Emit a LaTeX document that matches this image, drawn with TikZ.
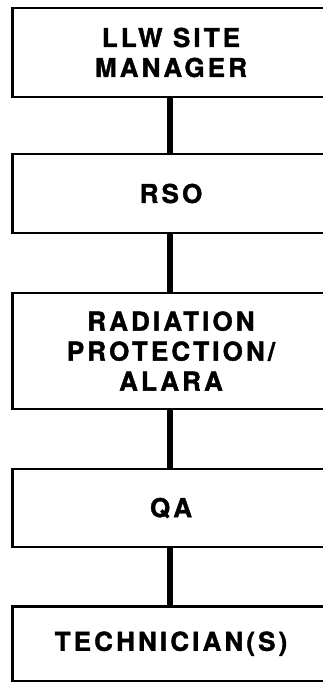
\documentclass[tikz,border=0pt]{standalone}
\usepackage{fontspec}
\setmainfont{TeX Gyre Heros}[LetterSpace=12, BoldFeatures={FakeBold=1.5}]
\begin{document}
\begin{tikzpicture}[x=1pt,y=-1pt,
  box/.style={draw, line width=2.8pt, minimum width=317pt, inner sep=0pt, outer sep=0pt,
    align=center, font=\bfseries\fontsize{26}{30}\selectfont},
  link/.style={line width=6.5pt}]
\useasboundingbox (0,0) rectangle (322,683);
\node[box, minimum height=89pt] (mgr) at (171,52.5) {LLW SITE\\MANAGER};
\node[box, minimum height=79pt] (rso) at (171,193.5) {RSO};
\node[box, minimum height=116pt] (rad) at (171,351) {RADIATION\\PROTECTION/\\ALARA};
\node[box, minimum height=78pt] (qa) at (171,508) {QA};
\node[box, minimum height=74.5pt] (tech) at (171,643.75) {TECHNICIAN(S)};
\draw[link] ([xshift=-1pt]mgr.south) -- ([xshift=-1pt]rso.north);
\draw[link] ([xshift=-1pt]rso.south) -- ([xshift=-1pt]rad.north);
\draw[link] ([xshift=-1pt]rad.south) -- ([xshift=-1pt]qa.north);
\draw[link] ([xshift=-1pt]qa.south) -- ([xshift=-1pt]tech.north);
\end{tikzpicture}
\end{document}
